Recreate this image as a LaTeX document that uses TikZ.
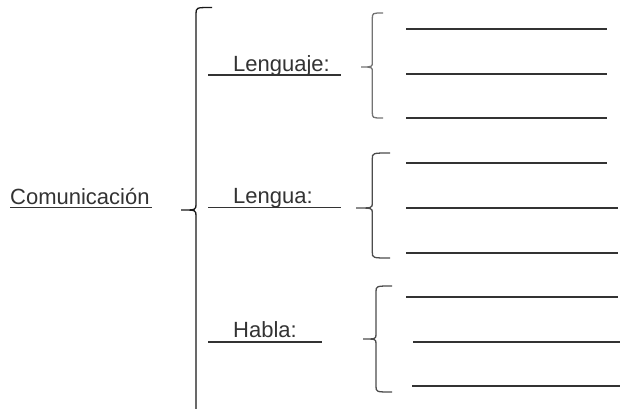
\documentclass[tikz,border=0pt]{standalone}
\usepackage{fontspec}
\setmainfont{Liberation Sans}
\begin{document}
\begin{tikzpicture}[x=1pt,y=-1pt,
  lbl/.style={inner sep=0pt,anchor=base west,text=black!80,font=\fontsize{22}{26}\selectfont},
  uline/.style={draw=black!80,line width=1.1pt},
  ansline/.style={draw=black!80,line width=1.3pt},
  bigbrace/.style={draw=black!90,line width=1.3pt},
  smallbrace/.style={draw=black!70,line width=1.3pt}]
\useasboundingbox (0,0) rectangle (621,408);
% labels
\node[lbl] (com) at (10,204) {Comunicación};
\node[lbl] (lje) at (233,71) {Lenguaje:};
\node[lbl] (lgu) at (233,203.5) {Lengua:};
\node[lbl] (hab) at (233,337.5) {Habla:};
% underlines
\draw[uline] (10,207.5) -- (152,207.5);
\draw[uline] (208,75) -- (341,75);
\draw[uline] (208,207.5) -- (341,207.5);
\draw[uline] (208,342) -- (322,342);
% big brace
\draw[bigbrace] (212,7.5) .. controls (196,7.5) .. (196,14) -- (196,204)
  .. controls (196,210) .. (181,210) .. controls (196,210) .. (196,216) -- (196,410);
% brace 1
\draw[smallbrace,draw=black!55] (383,13) .. controls (372.3,13) .. (372.3,19) -- (372.3,62)
  .. controls (372.3,67) .. (361,67) .. controls (372.3,67) .. (372.3,72) -- (372.3,112)
  .. controls (372.3,118) .. (383,118);
% brace 2
\draw[smallbrace] (390,153) .. controls (372.3,153) .. (372.3,159) -- (372.3,203)
  .. controls (372.3,208) .. (356,208) .. controls (372.3,208) .. (372.3,213) -- (372.3,252)
  .. controls (372.3,258) .. (390,258);
% brace 3
\draw[smallbrace] (392,286) .. controls (376,286) .. (376,292) -- (376,334)
  .. controls (376,339) .. (363,339) .. controls (376,339) .. (376,344) -- (376,386)
  .. controls (376,392) .. (392,392);
% answer lines
\draw[ansline] (406,29) -- (607,29);
\draw[ansline] (406,74) -- (607,74);
\draw[ansline] (406,118) -- (607,118);
\draw[ansline] (406,163) -- (607,163);
\draw[ansline] (406,208) -- (618,208);
\draw[ansline] (406,253) -- (618,253);
\draw[ansline] (406,297) -- (618,297);
\draw[ansline] (413,342) -- (620,342);
\draw[ansline] (412,386) -- (620,386);
\end{tikzpicture}
\end{document}
